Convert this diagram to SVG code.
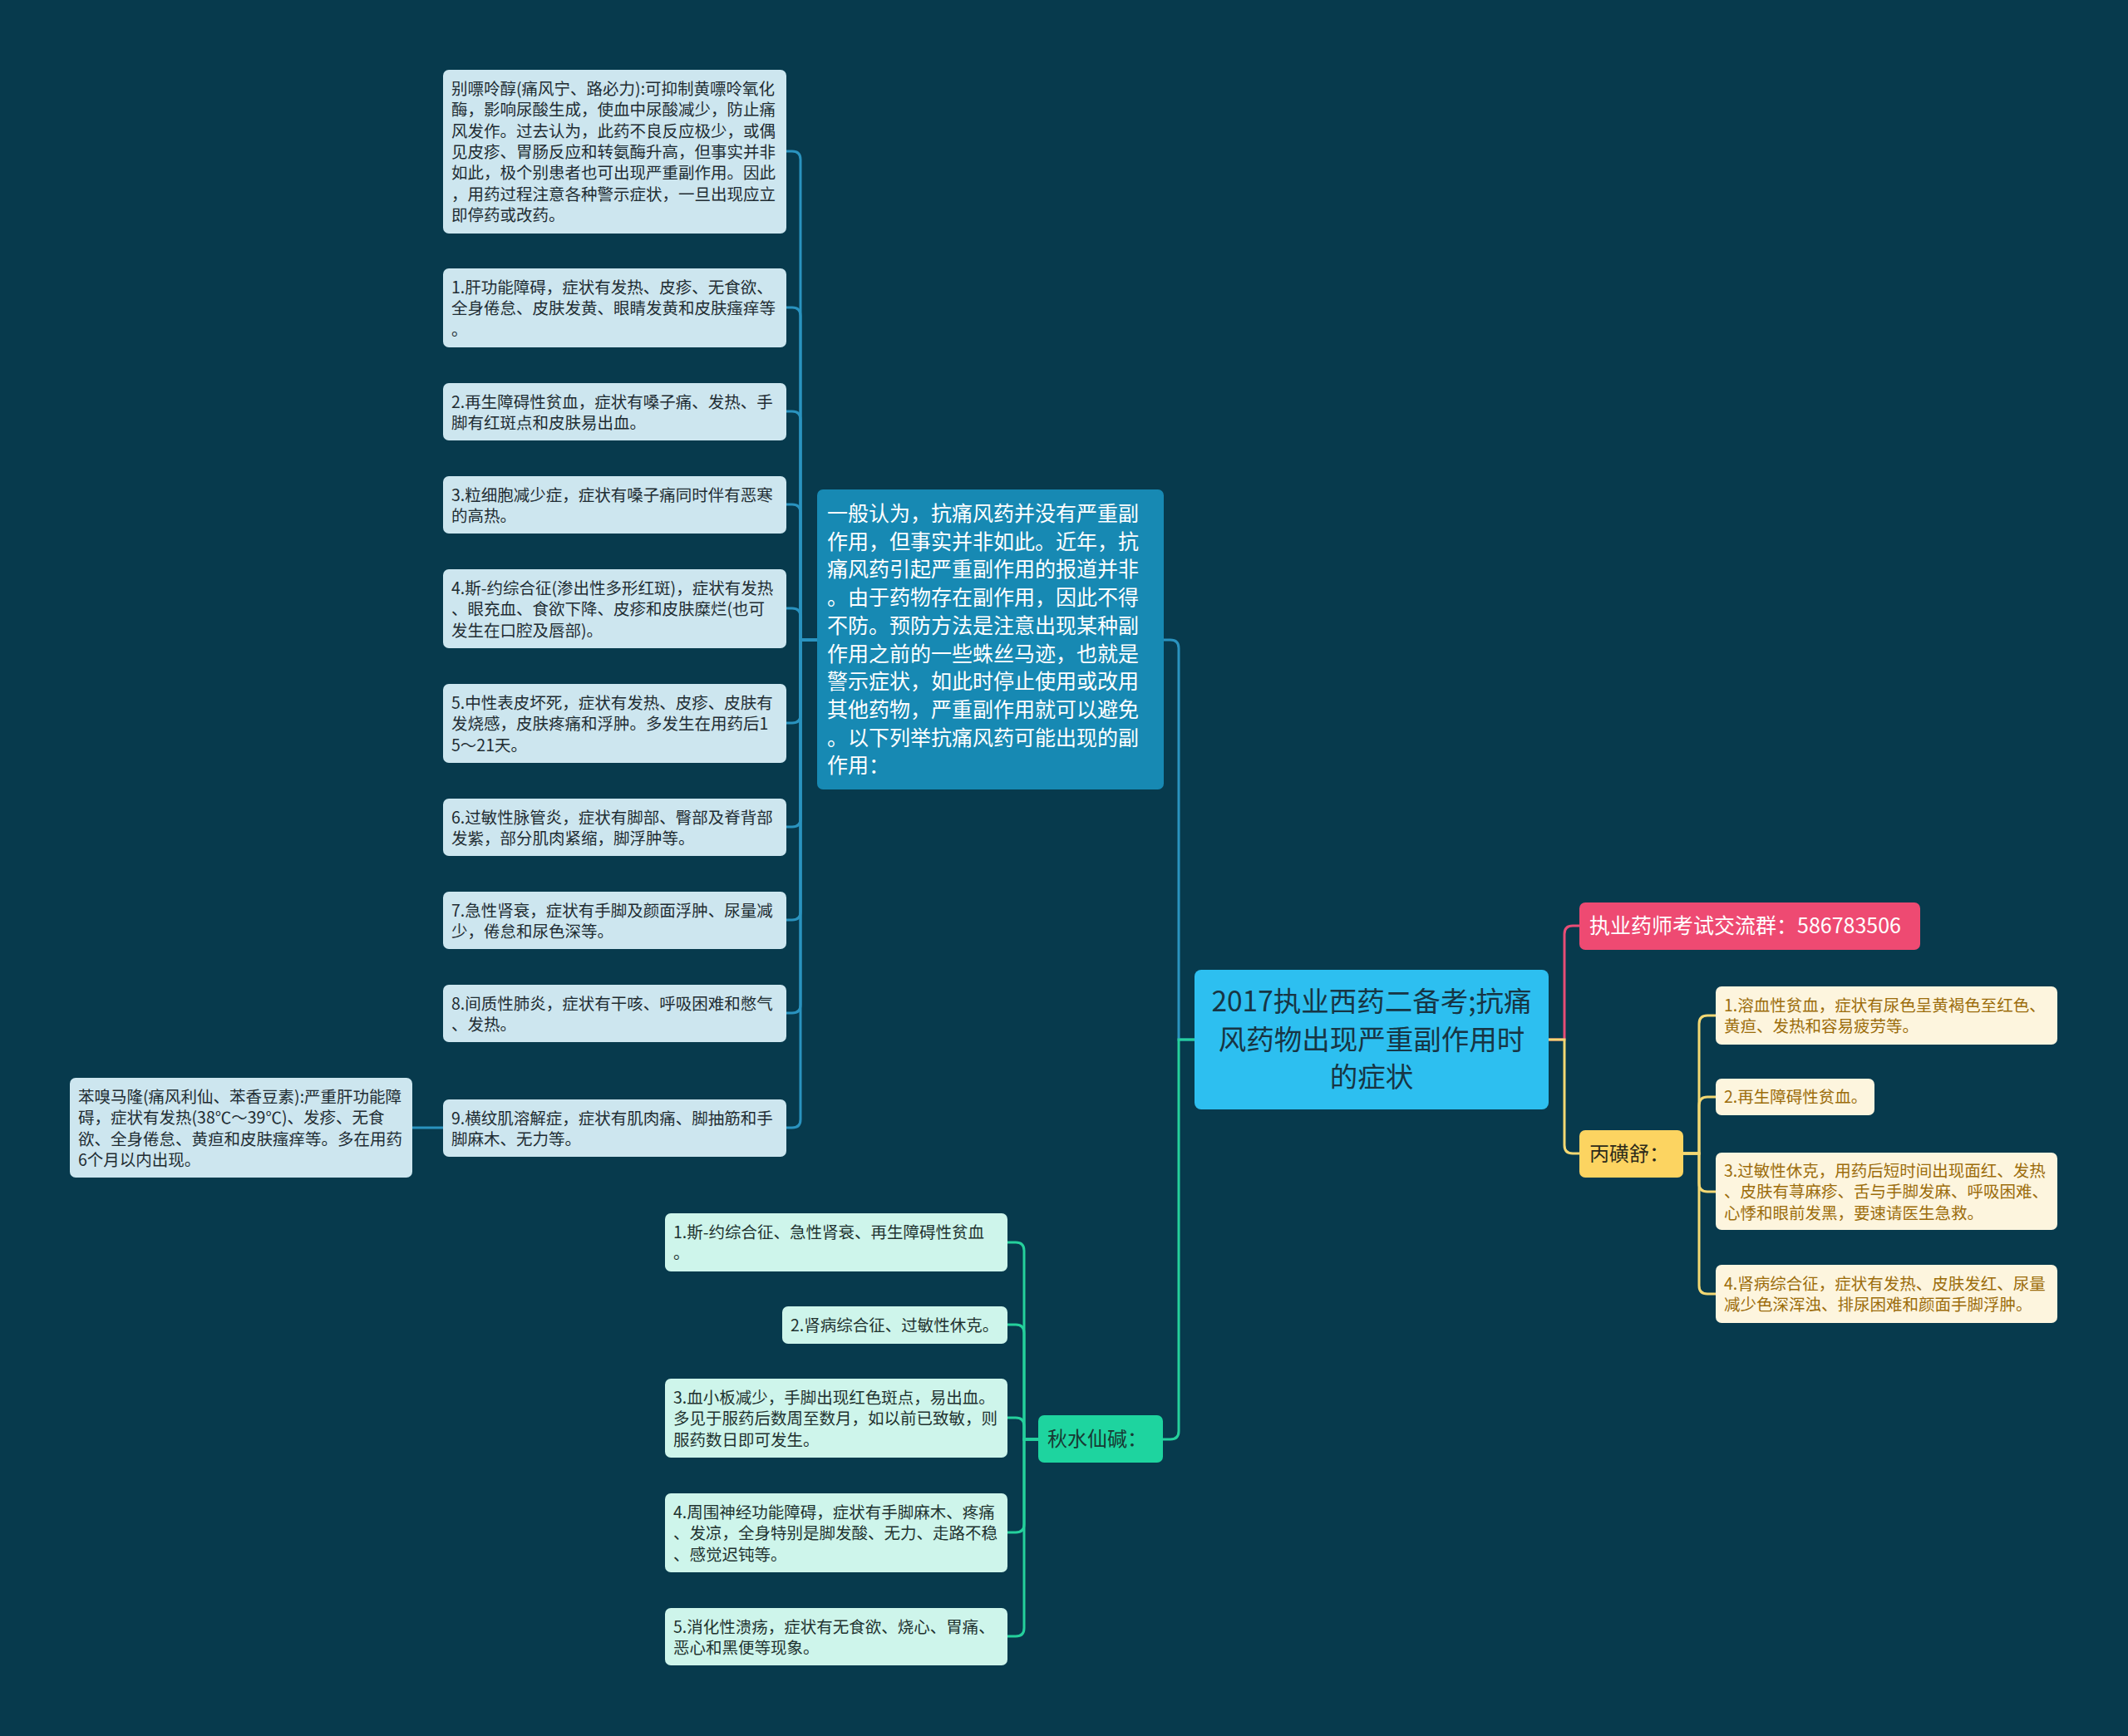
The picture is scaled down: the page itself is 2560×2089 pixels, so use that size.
<svg xmlns="http://www.w3.org/2000/svg" width="2560" height="2089" viewBox="0 0 2560 2089">
<style>
text{font-family:"Noto Sans CJK SC","Noto Sans",sans-serif}
.s{font-size:19.5px}
.lb rect{fill:#cde6ef}
.lb text{fill:#1f2d33}
.mt rect{fill:#cef5eb}
.mt text{fill:#1f3330}
.cr rect{fill:#fdf5de}
.cr text{fill:#9c6d0c}
.cb{fill:none;stroke:#2a93bf;stroke-width:3}
.cg{fill:none;stroke:#25d09c;stroke-width:3}
.cp{fill:none;stroke:#e84d76;stroke-width:3}
.cy{fill:none;stroke:#f3d873;stroke-width:3}
</style>
<rect width="2560" height="2089" fill="#073a4d"/>
<g id="connectors">
<path class="cb" d="M1437 1251 H1418 V780 Q1418 770 1408 770 H1400"/>
<path class="cg" d="M1437 1251 H1418 V1722 Q1418 1732 1408 1732 H1399"/>
<path class="cp" d="M1863 1251 H1882 V1124 Q1882 1114 1892 1114 H1900"/>
<path class="cy" d="M1863 1251 H1882 V1378 Q1882 1388 1892 1388 H1900"/>
<path class="cb" d="M983 770 H963 V192 Q963 182 953 182 H946"/>
<path class="cb" d="M983 770 H963 V380 Q963 370 953 370 H946"/>
<path class="cb" d="M983 770 H963 V505 Q963 495 953 495 H946"/>
<path class="cb" d="M983 770 H963 V617 Q963 607 953 607 H946"/>
<path class="cb" d="M983 770 H963 V742 Q963 732 953 732 H946"/>
<path class="cb" d="M983 770 H963 V860 Q963 870 953 870 H946"/>
<path class="cb" d="M983 770 H963 V985 Q963 995 953 995 H946"/>
<path class="cb" d="M983 770 H963 V1097 Q963 1107 953 1107 H946"/>
<path class="cb" d="M983 770 H963 V1209 Q963 1219 953 1219 H946"/>
<path class="cb" d="M983 770 H963 V1347 Q963 1357 953 1357 H946"/>
<path class="cb" d="M533 1357 H496"/>
<path class="cg" d="M1249 1732 H1232 V1505 Q1232 1495 1222 1495 H1212"/>
<path class="cg" d="M1249 1732 H1232 V1604 Q1232 1594 1222 1594 H1212"/>
<path class="cg" d="M1249 1732 H1232 V1716 Q1232 1706 1222 1706 H1212"/>
<path class="cg" d="M1249 1732 H1232 V1834 Q1232 1844 1222 1844 H1212"/>
<path class="cg" d="M1249 1732 H1232 V1959 Q1232 1969 1222 1969 H1212"/>
<path class="cy" d="M2025 1388 H2044 V1232 Q2044 1222 2054 1222 H2064"/>
<path class="cy" d="M2025 1388 H2044 V1330 Q2044 1320 2054 1320 H2064"/>
<path class="cy" d="M2025 1388 H2044 V1424 Q2044 1434 2054 1434 H2064"/>
<path class="cy" d="M2025 1388 H2044 V1547 Q2044 1557 2054 1557 H2064"/>
</g>
<g id="root">
<rect x="1437" y="1167" width="426" height="168" rx="8" fill="#2dbff0"/>
<text x="1650" y="1217" font-size="33.5" fill="#173544" text-anchor="middle"><tspan x="1650">2017执业西药二备考;抗痛</tspan><tspan x="1650" dy="45.5">风药物出现严重副作用时</tspan><tspan x="1650" dy="45.5">的症状</tspan></text>
</g>
<g id="intro">
<rect x="983" y="589" width="417" height="361" rx="7" fill="#1789b3"/>
<text x="995" y="627" font-size="25" fill="#ffffff"><tspan x="995">一般认为，抗痛风药并没有严重副</tspan><tspan x="995" dy="33.7">作用，但事实并非如此。近年，抗</tspan><tspan x="995" dy="33.7">痛风药引起严重副作用的报道并非</tspan><tspan x="995" dy="33.7">。由于药物存在副作用，因此不得</tspan><tspan x="995" dy="33.7">不防。预防方法是注意出现某种副</tspan><tspan x="995" dy="33.7">作用之前的一些蛛丝马迹，也就是</tspan><tspan x="995" dy="33.7">警示症状，如此时停止使用或改用</tspan><tspan x="995" dy="33.7">其他药物，严重副作用就可以避免</tspan><tspan x="995" dy="33.7">。以下列举抗痛风药可能出现的副</tspan><tspan x="995" dy="33.7">作用：</tspan></text>
</g>
<g id="n0" class="lb">
<rect x="533" y="84" width="413" height="197" rx="7"/>
<text class="s" x="543" y="114"><tspan x="543">别嘌呤醇(痛风宁、路必力):可抑制黄嘌呤氧化</tspan><tspan x="543" dy="25.3">酶，影响尿酸生成，使血中尿酸减少，防止痛</tspan><tspan x="543" dy="25.3">风发作。过去认为，此药不良反应极少，或偶</tspan><tspan x="543" dy="25.3">见皮疹、胃肠反应和转氨酶升高，但事实并非</tspan><tspan x="543" dy="25.3">如此，极个别患者也可出现严重副作用。因此</tspan><tspan x="543" dy="25.3">，用药过程注意各种警示症状，一旦出现应立</tspan><tspan x="543" dy="25.3">即停药或改药。</tspan></text>
</g>
<g id="n1" class="lb">
<rect x="533" y="323" width="413" height="95" rx="7"/>
<text class="s" x="543" y="353"><tspan x="543">1.肝功能障碍，症状有发热、皮疹、无食欲、</tspan><tspan x="543" dy="25.3">全身倦怠、皮肤发黄、眼睛发黄和皮肤瘙痒等</tspan><tspan x="543" dy="25.3">。</tspan></text>
</g>
<g id="n2" class="lb">
<rect x="533" y="461" width="413" height="69" rx="7"/>
<text class="s" x="543" y="491"><tspan x="543">2.再生障碍性贫血，症状有嗓子痛、发热、手</tspan><tspan x="543" dy="25.3">脚有红斑点和皮肤易出血。</tspan></text>
</g>
<g id="n3" class="lb">
<rect x="533" y="573" width="413" height="69" rx="7"/>
<text class="s" x="543" y="603"><tspan x="543">3.粒细胞减少症，症状有嗓子痛同时伴有恶寒</tspan><tspan x="543" dy="25.3">的高热。</tspan></text>
</g>
<g id="n4" class="lb">
<rect x="533" y="685" width="413" height="95" rx="7"/>
<text class="s" x="543" y="715"><tspan x="543">4.斯-约综合征(渗出性多形红斑)，症状有发热</tspan><tspan x="543" dy="25.3">、眼充血、食欲下降、皮疹和皮肤糜烂(也可</tspan><tspan x="543" dy="25.3">发生在口腔及唇部)。</tspan></text>
</g>
<g id="n5" class="lb">
<rect x="533" y="823" width="413" height="95" rx="7"/>
<text class="s" x="543" y="853"><tspan x="543">5.中性表皮坏死，症状有发热、皮疹、皮肤有</tspan><tspan x="543" dy="25.3">发烧感，皮肤疼痛和浮肿。多发生在用药后1</tspan><tspan x="543" dy="25.3">5～21天。</tspan></text>
</g>
<g id="n6" class="lb">
<rect x="533" y="961" width="413" height="69" rx="7"/>
<text class="s" x="543" y="991"><tspan x="543">6.过敏性脉管炎，症状有脚部、臀部及脊背部</tspan><tspan x="543" dy="25.3">发紫，部分肌肉紧缩，脚浮肿等。</tspan></text>
</g>
<g id="n7" class="lb">
<rect x="533" y="1073" width="413" height="69" rx="7"/>
<text class="s" x="543" y="1103"><tspan x="543">7.急性肾衰，症状有手脚及颜面浮肿、尿量减</tspan><tspan x="543" dy="25.3">少，倦怠和尿色深等。</tspan></text>
</g>
<g id="n8" class="lb">
<rect x="533" y="1185" width="413" height="69" rx="7"/>
<text class="s" x="543" y="1215"><tspan x="543">8.间质性肺炎，症状有干咳、呼吸困难和憋气</tspan><tspan x="543" dy="25.3">、发热。</tspan></text>
</g>
<g id="n9" class="lb">
<rect x="533" y="1323" width="413" height="69" rx="7"/>
<text class="s" x="543" y="1353"><tspan x="543">9.横纹肌溶解症，症状有肌肉痛、脚抽筋和手</tspan><tspan x="543" dy="25.3">脚麻木、无力等。</tspan></text>
</g>
<g id="n9a" class="lb">
<rect x="84" y="1297" width="412" height="120" rx="7"/>
<text class="s" x="94" y="1327"><tspan x="94">苯嗅马隆(痛风利仙、苯香豆素):严重肝功能障</tspan><tspan x="94" dy="25.3">碍，症状有发热(38℃～39℃)、发疹、无食</tspan><tspan x="94" dy="25.3">欲、全身倦怠、黄疸和皮肤瘙痒等。多在用药</tspan><tspan x="94" dy="25.3">6个月以内出现。</tspan></text>
</g>
<g id="colchicine">
<rect x="1249" y="1703" width="150" height="57" rx="7" fill="#1ed49f"/>
<text x="1260" y="1740" font-size="24" fill="#173a33">秋水仙碱：</text>
</g>
<g id="c1" class="mt">
<rect x="800" y="1460" width="412" height="70" rx="7"/>
<text class="s" x="810" y="1490"><tspan x="810">1.斯-约综合征、急性肾衰、再生障碍性贫血</tspan><tspan x="810" dy="25.3">。</tspan></text>
</g>
<g id="c2" class="mt">
<rect x="941" y="1572" width="271" height="45" rx="7"/>
<text class="s" x="951" y="1602">2.肾病综合征、过敏性休克。</text>
</g>
<g id="c3" class="mt">
<rect x="800" y="1659" width="412" height="95" rx="7"/>
<text class="s" x="810" y="1689"><tspan x="810">3.血小板减少，手脚出现红色斑点，易出血。</tspan><tspan x="810" dy="25.3">多见于服药后数周至数月，如以前已致敏，则</tspan><tspan x="810" dy="25.3">服药数日即可发生。</tspan></text>
</g>
<g id="c4" class="mt">
<rect x="800" y="1797" width="412" height="95" rx="7"/>
<text class="s" x="810" y="1827"><tspan x="810">4.周围神经功能障碍，症状有手脚麻木、疼痛</tspan><tspan x="810" dy="25.3">、发凉，全身特别是脚发酸、无力、走路不稳</tspan><tspan x="810" dy="25.3">、感觉迟钝等。</tspan></text>
</g>
<g id="c5" class="mt">
<rect x="800" y="1935" width="412" height="69" rx="7"/>
<text class="s" x="810" y="1965"><tspan x="810">5.消化性溃疡，症状有无食欲、烧心、胃痛、</tspan><tspan x="810" dy="25.3">恶心和黑便等现象。</tspan></text>
</g>
<g id="group">
<rect x="1900" y="1086" width="410" height="57" rx="7" fill="#ee4a72"/>
<text x="1912" y="1123" font-size="25" fill="#ffffff">执业药师考试交流群：586783506</text>
</g>
<g id="probenecid">
<rect x="1900" y="1360" width="125" height="57" rx="7" fill="#fcd461"/>
<text x="1912" y="1397" font-size="24" fill="#2d2a1a">丙磺舒：</text>
</g>
<g id="y1" class="cr">
<rect x="2064" y="1187" width="411" height="70" rx="7"/>
<text class="s" x="2074" y="1217"><tspan x="2074">1.溶血性贫血，症状有尿色呈黄褐色至红色、</tspan><tspan x="2074" dy="25.3">黄疸、发热和容易疲劳等。</tspan></text>
</g>
<g id="y2" class="cr">
<rect x="2064" y="1298" width="191" height="44" rx="7"/>
<text class="s" x="2074" y="1327">2.再生障碍性贫血。</text>
</g>
<g id="y3" class="cr">
<rect x="2064" y="1387" width="411" height="93" rx="7"/>
<text class="s" x="2074" y="1416"><tspan x="2074">3.过敏性休克，用药后短时间出现面红、发热</tspan><tspan x="2074" dy="25.3">、皮肤有荨麻疹、舌与手脚发麻、呼吸困难、</tspan><tspan x="2074" dy="25.3">心悸和眼前发黑，要速请医生急救。</tspan></text>
</g>
<g id="y4" class="cr">
<rect x="2064" y="1522" width="411" height="70" rx="7"/>
<text class="s" x="2074" y="1552"><tspan x="2074">4.肾病综合征，症状有发热、皮肤发红、尿量</tspan><tspan x="2074" dy="25.3">减少色深浑浊、排尿困难和颜面手脚浮肿。</tspan></text>
</g>
</svg>
